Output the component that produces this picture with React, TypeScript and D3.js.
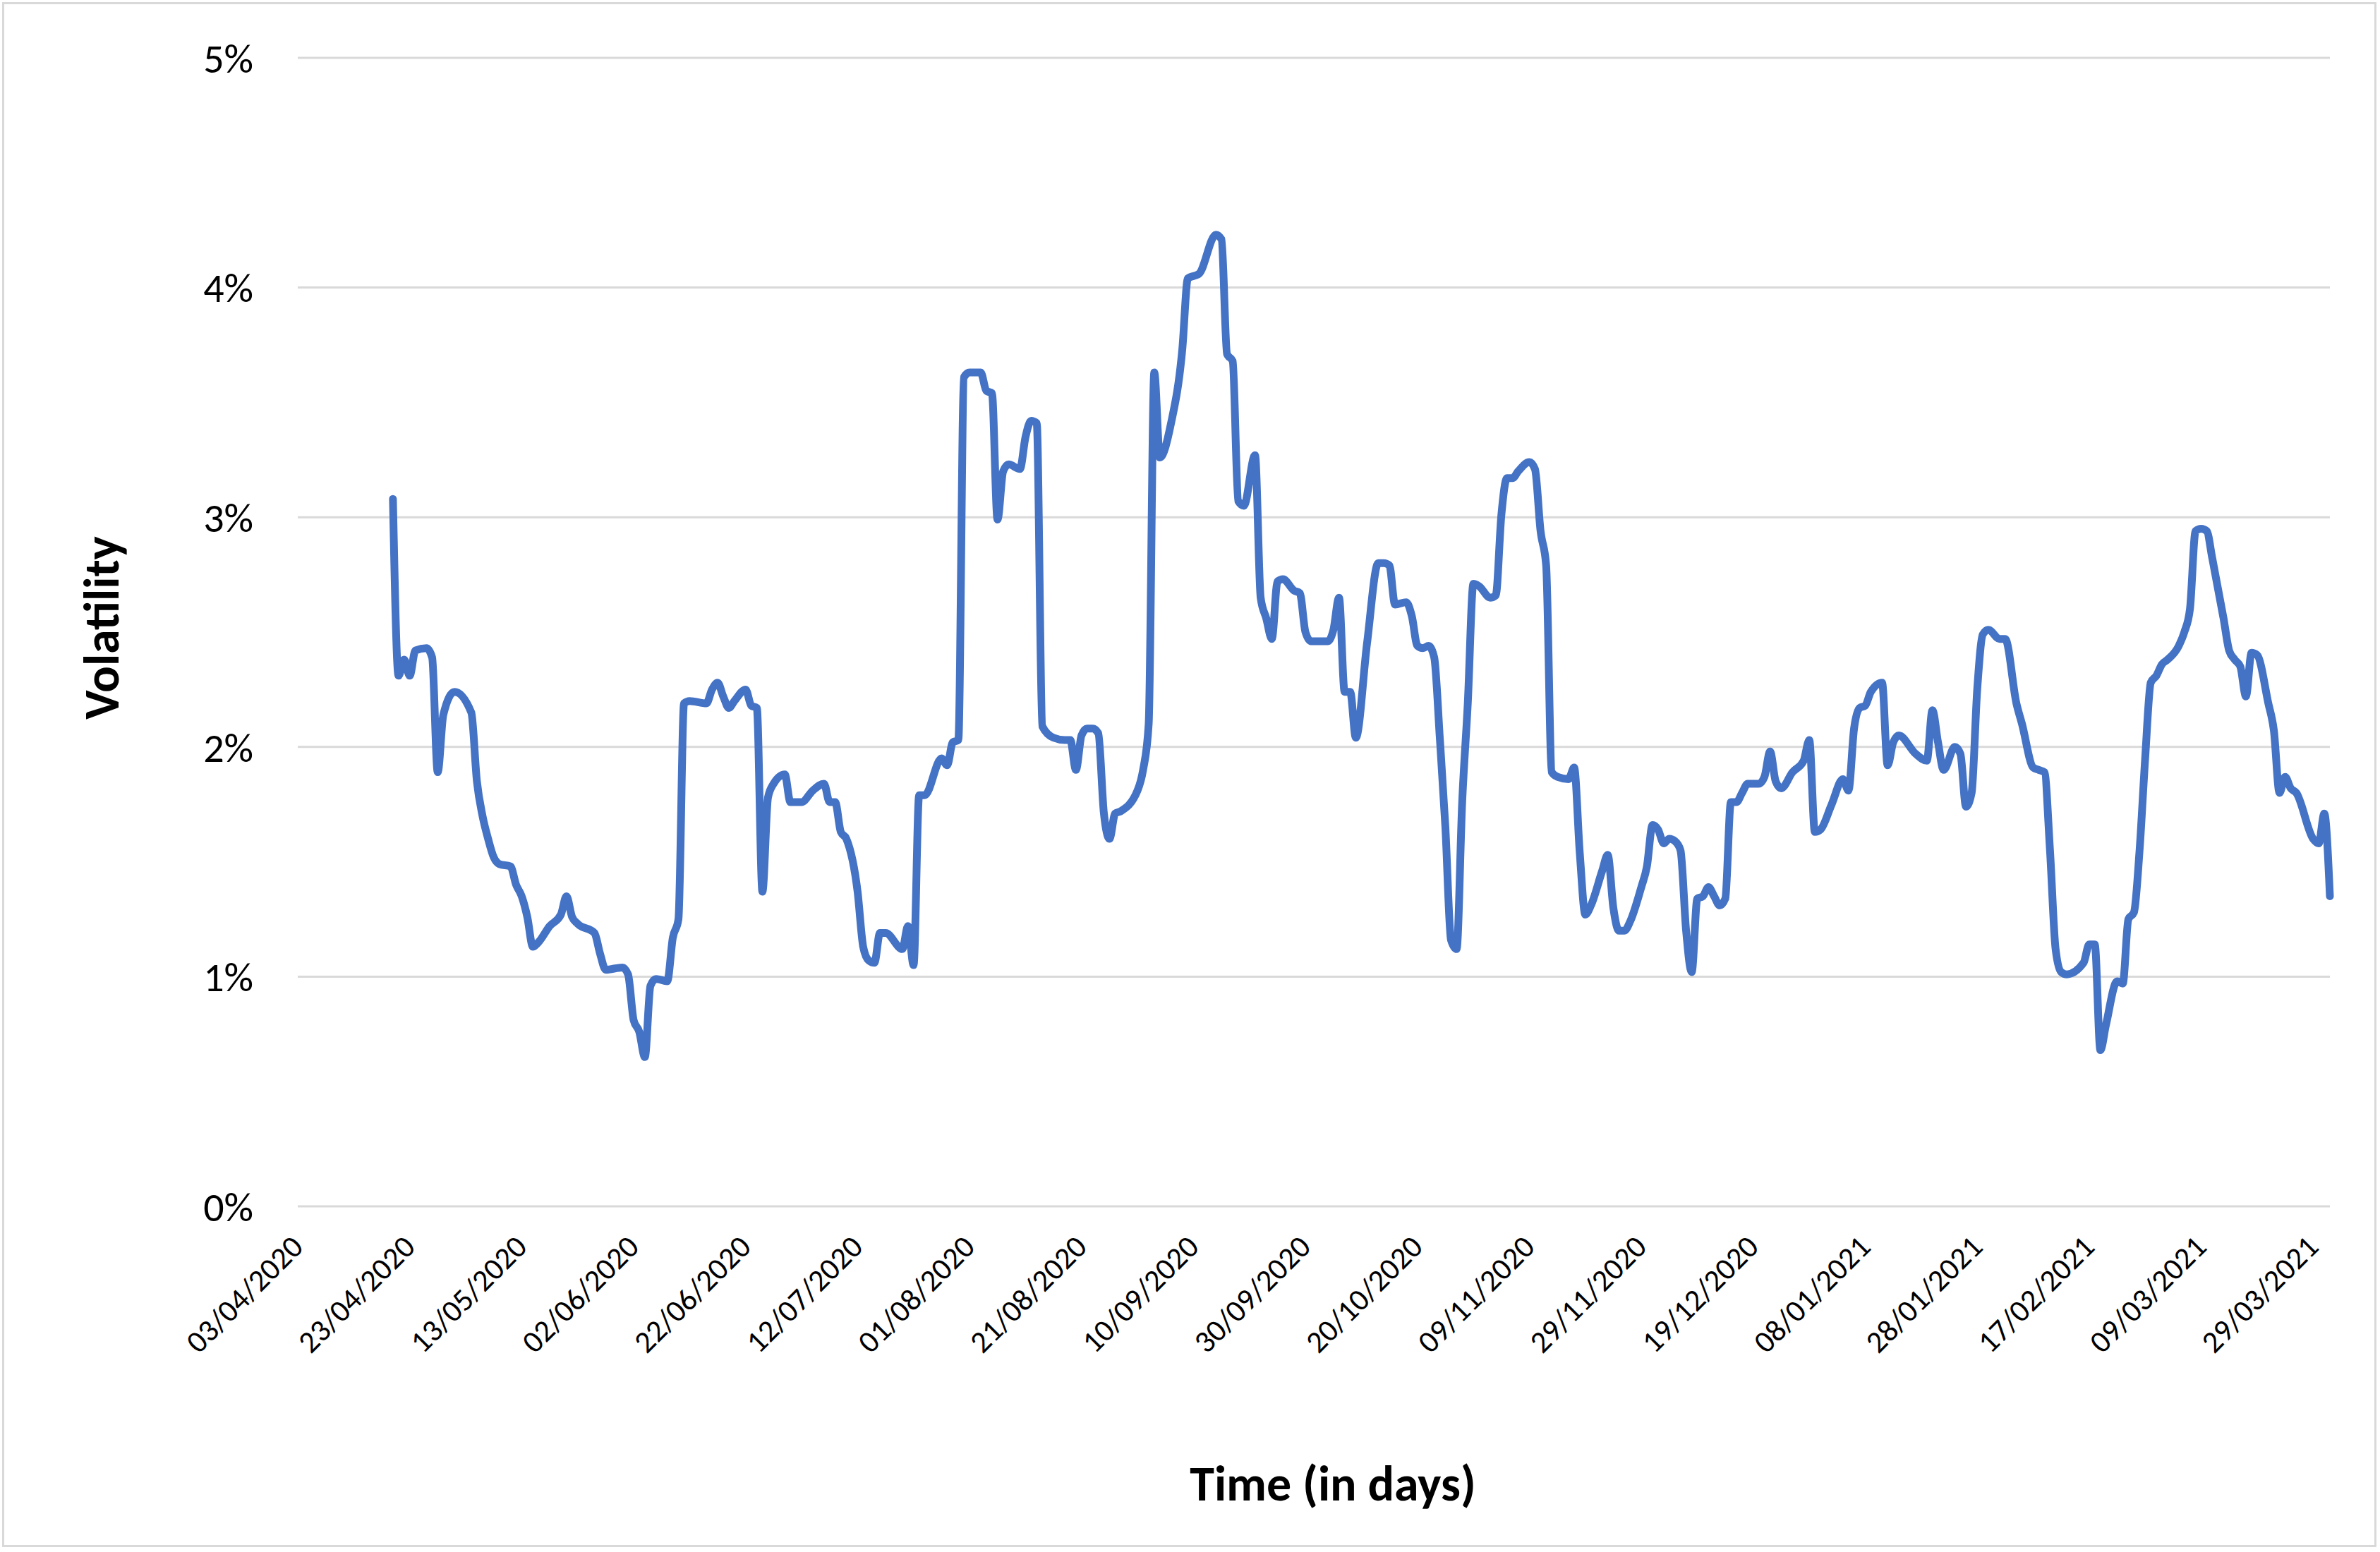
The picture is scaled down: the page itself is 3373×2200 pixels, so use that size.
import React from 'react';
import * as d3 from 'd3';

const width = 3373;
const height = 2200;
const margin = {top: 82, right: 71, bottom: 490, left: 422};
const lineBlue = '#4472c4';
const gridGrey = '#d9d9d9';
const font = 'Carlito, Lato, sans-serif';

// daily volatility readings (in %)
const dates = [
    '2020-04-20', '2020-04-21', '2020-04-22', '2020-04-23', '2020-04-24', '2020-04-26', '2020-04-27', '2020-04-28', '2020-04-29',
    '2020-05-01', '2020-05-04', '2020-05-05', '2020-05-06', '2020-05-07', '2020-05-08', '2020-05-09', '2020-05-11', '2020-05-12',
    '2020-05-13', '2020-05-14', '2020-05-15', '2020-05-16', '2020-05-18', '2020-05-20', '2020-05-21', '2020-05-22', '2020-05-23',
    '2020-05-26', '2020-05-27', '2020-05-28', '2020-05-31',
    '2020-06-01', '2020-06-02', '2020-06-03', '2020-06-04', '2020-06-05', '2020-06-06', '2020-06-08', '2020-06-09', '2020-06-10',
    '2020-06-11', '2020-06-12', '2020-06-15', '2020-06-16', '2020-06-17', '2020-06-18', '2020-06-19', '2020-06-20', '2020-06-22',
    '2020-06-23', '2020-06-24', '2020-06-25', '2020-06-26', '2020-06-27', '2020-06-29', '2020-06-30',
    '2020-07-02', '2020-07-04', '2020-07-06', '2020-07-07', '2020-07-08', '2020-07-09', '2020-07-10', '2020-07-12', '2020-07-13',
    '2020-07-14', '2020-07-15', '2020-07-16', '2020-07-17', '2020-07-20', '2020-07-21', '2020-07-22', '2020-07-23', '2020-07-24',
    '2020-07-27', '2020-07-28', '2020-07-29', '2020-07-30', '2020-07-31',
    '2020-08-01', '2020-08-03', '2020-08-04', '2020-08-05', '2020-08-06', '2020-08-07', '2020-08-08', '2020-08-10', '2020-08-11',
    '2020-08-12', '2020-08-13', '2020-08-14', '2020-08-16', '2020-08-18', '2020-08-19', '2020-08-20', '2020-08-21', '2020-08-22',
    '2020-08-23', '2020-08-24', '2020-08-25', '2020-08-26', '2020-08-27', '2020-08-28', '2020-08-31',
    '2020-09-01', '2020-09-02', '2020-09-03', '2020-09-04', '2020-09-06', '2020-09-08', '2020-09-09', '2020-09-11', '2020-09-14',
    '2020-09-15', '2020-09-16', '2020-09-17', '2020-09-18', '2020-09-19', '2020-09-21', '2020-09-22', '2020-09-23', '2020-09-24',
    '2020-09-25', '2020-09-26', '2020-09-28', '2020-09-29', '2020-09-30',
    '2020-10-01', '2020-10-04', '2020-10-05', '2020-10-06', '2020-10-07', '2020-10-08', '2020-10-09', '2020-10-11', '2020-10-13',
    '2020-10-14', '2020-10-15', '2020-10-16', '2020-10-18', '2020-10-19', '2020-10-20', '2020-10-21', '2020-10-22', '2020-10-23',
    '2020-10-24', '2020-10-25', '2020-10-26', '2020-10-27', '2020-10-28', '2020-10-29', '2020-10-30', '2020-10-31',
    '2020-11-02', '2020-11-03', '2020-11-04', '2020-11-05', '2020-11-06', '2020-11-07', '2020-11-09', '2020-11-10', '2020-11-11',
    '2020-11-12', '2020-11-13', '2020-11-14', '2020-11-16', '2020-11-17', '2020-11-18', '2020-11-19', '2020-11-20', '2020-11-22',
    '2020-11-23', '2020-11-24', '2020-11-25', '2020-11-26', '2020-11-27', '2020-11-29', '2020-11-30',
    '2020-12-01', '2020-12-02', '2020-12-03', '2020-12-04', '2020-12-05', '2020-12-06', '2020-12-07', '2020-12-08', '2020-12-09',
    '2020-12-10', '2020-12-11', '2020-12-12', '2020-12-13', '2020-12-14', '2020-12-15', '2020-12-16', '2020-12-17', '2020-12-18',
    '2020-12-20', '2020-12-21', '2020-12-22', '2020-12-23', '2020-12-24', '2020-12-26', '2020-12-28', '2020-12-29', '2020-12-30',
    '2020-12-31',
    '2021-01-02', '2021-01-04', '2021-01-05', '2021-01-06', '2021-01-07', '2021-01-08', '2021-01-09', '2021-01-11', '2021-01-12',
    '2021-01-13', '2021-01-14', '2021-01-17', '2021-01-19', '2021-01-20', '2021-01-21', '2021-01-22', '2021-01-24', '2021-01-25',
    '2021-01-26', '2021-01-27', '2021-01-28', '2021-01-29', '2021-01-30',
    '2021-02-01', '2021-02-02', '2021-02-04', '2021-02-05', '2021-02-07', '2021-02-08', '2021-02-09', '2021-02-10', '2021-02-11',
    '2021-02-12', '2021-02-13', '2021-02-16', '2021-02-17', '2021-02-18', '2021-02-19', '2021-02-20', '2021-02-22', '2021-02-23',
    '2021-02-24', '2021-02-25', '2021-02-26', '2021-02-27', '2021-02-28',
    '2021-03-01', '2021-03-02', '2021-03-03', '2021-03-05', '2021-03-06', '2021-03-07', '2021-03-08', '2021-03-09', '2021-03-10',
    '2021-03-11', '2021-03-13', '2021-03-14', '2021-03-15', '2021-03-16', '2021-03-17', '2021-03-18', '2021-03-19', '2021-03-21',
    '2021-03-22', '2021-03-23', '2021-03-24', '2021-03-25', '2021-03-26', '2021-03-29', '2021-03-30', '2021-03-31', '2021-04-01',
];

const volatility = [
    3.08, 2.31, 2.38, 2.31, 2.42, 2.43, 2.39, 1.89, 2.14,
    2.24, 2.15, 1.85, 1.70, 1.60, 1.52, 1.49, 1.48, 1.40,
    1.35, 1.26, 1.13, 1.15, 1.22, 1.27, 1.35, 1.26, 1.23,
    1.19, 1.10, 1.03, 1.04,
    1.01, 0.81, 0.76, 0.65, 0.96, 0.99, 0.98, 1.17, 1.25,
    2.19, 2.20, 2.19, 2.25, 2.28, 2.22, 2.17, 2.20, 2.25,
    2.18, 2.17, 1.37, 1.78, 1.84, 1.88, 1.76,
    1.76, 1.81, 1.84, 1.76, 1.76, 1.63, 1.60, 1.37, 1.13,
    1.07, 1.06, 1.19, 1.19, 1.12, 1.22, 1.05, 1.79, 1.79,
    1.95, 1.92, 2.02, 2.03, 3.61,
    3.63, 3.63, 3.55, 3.54, 2.99, 3.20, 3.23, 3.21, 3.35,
    3.42, 3.41, 2.09, 2.04, 2.03, 2.03, 1.90, 2.05, 2.08,
    2.08, 2.06, 1.71, 1.60, 1.71, 1.72, 1.81,
    1.90, 2.10, 3.63, 3.26, 3.41, 3.73, 4.04, 4.06, 4.23,
    4.21, 3.71, 3.68, 3.07, 3.05, 3.27, 2.65, 2.56, 2.47,
    2.72, 2.73, 2.68, 2.67, 2.50,
    2.46, 2.46, 2.51, 2.65, 2.24, 2.24, 2.04, 2.45, 2.80,
    2.80, 2.79, 2.62, 2.63, 2.57, 2.44, 2.43, 2.44, 2.39,
    2.04, 1.65, 1.16, 1.12, 1.76, 2.19, 2.71, 2.70,
    2.65, 2.66, 3.01, 3.17, 3.17, 3.20, 3.24, 3.21, 2.94,
    2.79, 1.89, 1.87, 1.86, 1.91, 1.54, 1.27, 1.31, 1.46,
    1.53, 1.30, 1.20, 1.20, 1.24, 1.39, 1.48,
    1.66, 1.64, 1.58, 1.60, 1.59, 1.55, 1.20, 1.02, 1.34,
    1.35, 1.39, 1.35, 1.31, 1.34, 1.76, 1.76, 1.80, 1.84,
    1.84, 1.87, 1.98, 1.85, 1.82, 1.89, 1.94, 2.03, 1.63,
    1.64,
    1.75, 1.86, 1.81, 2.08, 2.17, 2.18, 2.24, 2.28, 1.92,
    2.02, 2.05, 1.97, 1.94, 2.16, 2.02, 1.90, 2.00, 1.97,
    1.74, 1.80, 2.25, 2.49, 2.51,
    2.47, 2.47, 2.19, 2.10, 1.91, 1.90, 1.89, 1.55, 1.12,
    1.02, 1.01, 1.06, 1.14, 1.14, 0.68, 0.79, 0.98, 0.97,
    1.25, 1.28, 1.55, 1.95, 2.28,
    2.31, 2.36, 2.38, 2.44, 2.50, 2.60, 2.94, 2.95, 2.94,
    2.82, 2.56, 2.42, 2.38, 2.35, 2.22, 2.41, 2.40, 2.19,
    2.07, 1.80, 1.87, 1.82, 1.80, 1.60, 1.58, 1.71, 1.35,
];

const tickLabels = [
    '03/04/2020', '23/04/2020', '13/05/2020', '02/06/2020', '22/06/2020', '12/07/2020', '01/08/2020',
    '21/08/2020', '10/09/2020', '30/09/2020', '20/10/2020', '09/11/2020', '29/11/2020', '19/12/2020',
    '08/01/2021', '28/01/2021', '17/02/2021', '09/03/2021', '29/03/2021',
];
const yTicks = [0, 1, 2, 3, 4, 5];
const axisStart = '2020-04-03';
const axisEnd = '2021-04-01';

const parseIso = d3.utcParse('%Y-%m-%d');
const parseDmy = d3.utcParse('%d/%m/%Y');

export default function App() {
    const xScale = d3.scaleUtc()
        .domain([parseIso(axisStart), parseIso(axisEnd)])
        .range([margin.left, width - margin.right]);
    const yScale = d3.scaleLinear()
        .domain([0, 5])
        .range([height - margin.bottom, margin.top]);

    const points = dates.map((d, i) => ({date: parseIso(d), value: volatility[i]}));
    const lineGenerator = d3.line()
        .x(d => xScale(d.date))
        .y(d => yScale(d.value))
        .curve(d3.curveMonotoneX);

    const plotLeft = margin.left;
    const plotRight = width - margin.right;
    const axisY = yScale(0);

    return (
        <div style={{position: 'absolute', left: 0, top: 0}}>
            <svg width={width} height={height} style={{display: 'block', background: '#ffffff'}}>
                <rect x={4.5} y={4.5} width={3362} height={2187} fill='#ffffff' stroke={gridGrey} strokeWidth='3'/>
                <g>
                    {yTicks.map(t => (
                        <line key={t} x1={plotLeft} x2={plotRight} y1={yScale(t)} y2={yScale(t)}
                              stroke={gridGrey} strokeWidth='3'/>
                    ))}
                </g>
                <g fontFamily={font} fontSize='58' fill='#000000'>
                    {yTicks.map(t => (
                        <text key={t} x={359} y={yScale(t)} dy='0.36em' textAnchor='end'>{`${t}%`}</text>
                    ))}
                </g>
                <g fontFamily={font} fontSize='44' fill='#000000'>
                    {tickLabels.map(label => {
                        const tx = xScale(parseDmy(label)) + 10;
                        const ty = axisY + 60;
                        return (
                            <text key={label} x={tx} y={ty} textAnchor='end'
                                  transform={`rotate(-45, ${tx}, ${ty})`}>{label}</text>
                        );
                    })}
                </g>
                <path d={lineGenerator(points)} fill='none' stroke={lineBlue} strokeWidth='11'
                      strokeLinejoin='round' strokeLinecap='round'/>
                <text x={168} y={890} fontFamily={font} fontSize='70' fontWeight='bold' textAnchor='middle'
                      transform='rotate(-90, 168, 890)'>Volatility</text>
                <text x={1889} y={2127} fontFamily={font} fontSize='70' fontWeight='bold'
                      textAnchor='middle'>Time (in days)</text>
            </svg>
        </div>
    );
}
